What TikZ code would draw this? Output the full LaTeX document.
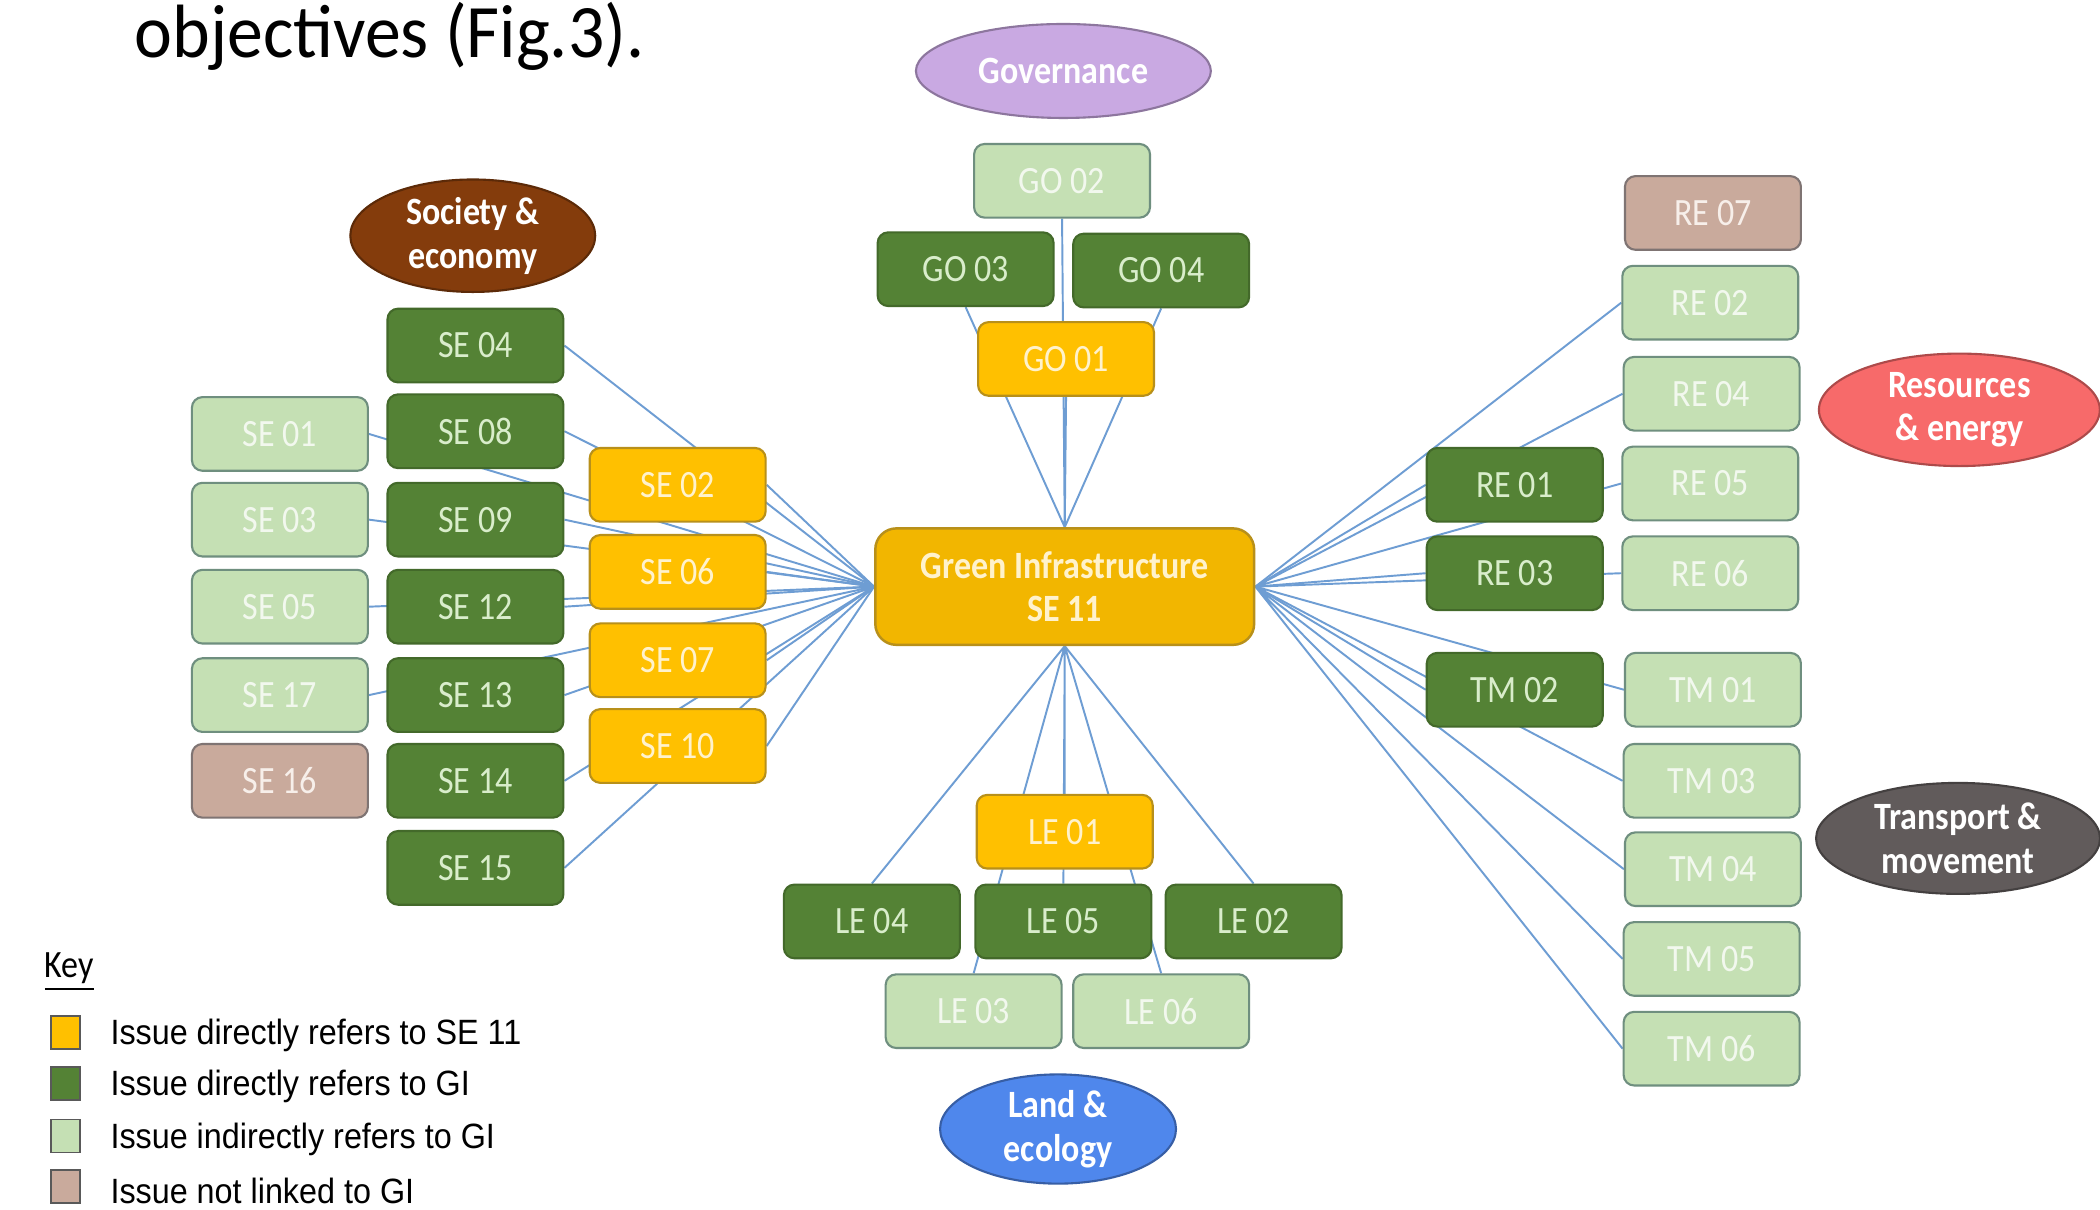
\documentclass[tikz,border=0pt]{standalone}
\usepackage{fontspec}
\setmainfont{Carlito}[FakeStretch=0.88]
\newfontfamily\titlefont{Carlito}[FakeStretch=0.95]
\newfontfamily\keyfont{Liberation Sans}[FakeStretch=0.92]
\usepackage{tikz}
\usetikzlibrary{shapes.geometric,backgrounds}
\definecolor{siGold}{HTML}{FFC000}
\definecolor{siGoldEdge}{HTML}{B8901A}
\definecolor{siGoldText}{HTML}{FFF2CC}
\definecolor{giGold}{HTML}{F2B600}
\definecolor{giGreen}{HTML}{548235}
\definecolor{giGreenEdge}{HTML}{43692A}
\definecolor{giGreenText}{HTML}{D9EDCB}
\definecolor{indGreen}{HTML}{C5E0B4}
\definecolor{indGreenEdge}{HTML}{6F8F7F}
\definecolor{indGreenText}{HTML}{F2F8EE}
\definecolor{nlTan}{HTML}{C9AA9C}
\definecolor{nlTanEdge}{HTML}{7F7473}
\definecolor{nlTanText}{HTML}{F7EFEA}
\definecolor{linkBlue}{HTML}{6E9DD3}
\definecolor{govLilac}{HTML}{C9A9E2}
\definecolor{socBrown}{HTML}{843C0C}
\definecolor{resRed}{HTML}{F76A6A}
\definecolor{traGrey}{HTML}{615B5B}
\definecolor{lanBlue}{HTML}{4F87EC}
\tikzset{issue/.style={draw,rounded corners=3pt,line width=0.6pt,minimum width=1.76cm,minimum height=0.737cm,inner sep=1pt,font=\fontsize{11}{12}\selectfont},
	refers si/.style={issue,fill=siGold,draw=siGoldEdge,text=siGoldText},
	refers gi/.style={issue,fill=giGreen,draw=giGreenEdge,text=giGreenText},
	indirect gi/.style={issue,fill=indGreen,draw=indGreenEdge,text=indGreenText},
	not linked/.style={issue,fill=nlTan,draw=nlTanEdge,text=nlTanText},
	theme/.style={ellipse,draw,line width=0.6pt,inner sep=0pt,align=center,text=white,font=\bfseries\fontsize{11}{12.4}\selectfont},
	link/.style={draw=linkBlue,line width=0.55pt},
	key box/.style={draw=gray!70!black,line width=0.4pt,minimum width=0.29cm,minimum height=0.33cm,inner sep=0pt},
	key label/.style={anchor=west,inner sep=0pt,font=\keyfont\fontsize{10}{12}\selectfont}}

\begin{document}
\begin{tikzpicture}[x=0.0133929cm,y=-0.0133929cm]
	\useasboundingbox (0,0) rectangle (1568,903);
	\clip (0,0) rectangle (1568,903);
	\node[anchor=base west,inner sep=0pt,font=\titlefont\fontsize{21.5}{24}\selectfont] (title) at (100,43) {objectives (Fig.3).};
	\node[draw=siGoldEdge,fill=giGold,rounded corners=6pt,line width=0.7pt,minimum width=3.79cm,minimum height=1.165cm,align=center,text=siGoldText,font=\bfseries\fontsize{11}{12.4}\selectfont] (GI) at (795,438) {Green Infrastructure\\SE 11};
	\node[theme,fill=govLilac,draw=govLilac!70!black,minimum width=2.95cm,minimum height=0.94cm] (gov) at (794,53) {Governance};
	\node[theme,fill=socBrown,draw=socBrown!70!black,minimum width=2.45cm,minimum height=1.125cm] (soc) at (353,176) {Society \&\\economy};
	\node[theme,fill=resRed,draw=resRed!70!black,minimum width=2.81cm,minimum height=1.125cm] (res) at (1463,306) {Resources\\\& energy};
	\node[theme,fill=traGrey,draw=traGrey!70!black,minimum width=2.84cm,minimum height=1.11cm] (tra) at (1462,626) {Transport \&\\movement};
	\node[theme,fill=lanBlue,draw=lanBlue!70!black,minimum width=2.36cm,minimum height=1.07cm] (lan) at (790,843) {Land \&\\ecology};
	\node[indirect gi] (GO02) at (793,135) {GO 02};
	\node[refers gi] (GO03) at (721,201) {GO 03};
	\node[refers gi] (GO04) at (867,202) {GO 04};
	\node[refers si] (GO01) at (796,268) {GO 01};
	\node[indirect gi] (SE01) at (209,324) {SE 01};
	\node[indirect gi] (SE03) at (209,388) {SE 03};
	\node[indirect gi] (SE05) at (209,453) {SE 05};
	\node[indirect gi] (SE17) at (209,519) {SE 17};
	\node[not linked] (SE16) at (209,583) {SE 16};
	\node[refers gi] (SE04) at (355,258) {SE 04};
	\node[refers gi] (SE08) at (355,322) {SE 08};
	\node[refers gi] (SE09) at (355,388) {SE 09};
	\node[refers gi] (SE12) at (355,453) {SE 12};
	\node[refers gi] (SE13) at (355,519) {SE 13};
	\node[refers gi] (SE14) at (355,583) {SE 14};
	\node[refers gi] (SE15) at (355,648) {SE 15};
	\node[refers si] (SE02) at (506,362) {SE 02};
	\node[refers si] (SE06) at (506,427) {SE 06};
	\node[refers si] (SE07) at (506,493) {SE 07};
	\node[refers si] (SE10) at (506,557) {SE 10};
	\node[refers gi] (RE01) at (1131,362) {RE 01};
	\node[refers gi] (RE03) at (1131,428) {RE 03};
	\node[refers gi] (TM02) at (1131,515) {TM 02};
	\node[not linked] (RE07) at (1279,159) {RE 07};
	\node[indirect gi] (RE02) at (1277,226) {RE 02};
	\node[indirect gi] (RE04) at (1278,294) {RE 04};
	\node[indirect gi] (RE05) at (1277,361) {RE 05};
	\node[indirect gi] (RE06) at (1277,428) {RE 06};
	\node[indirect gi] (TM01) at (1279,515) {TM 01};
	\node[indirect gi] (TM03) at (1278,583) {TM 03};
	\node[indirect gi] (TM04) at (1279,649) {TM 04};
	\node[indirect gi] (TM05) at (1278,716) {TM 05};
	\node[indirect gi] (TM06) at (1278,783) {TM 06};
	\node[refers si] (LE01) at (795,621) {LE 01};
	\node[refers gi] (LE04) at (651,688) {LE 04};
	\node[refers gi] (LE05) at (794,688) {LE 05};
	\node[refers gi] (LE02) at (936,688) {LE 02};
	\node[indirect gi] (LE03) at (727,755) {LE 03};
	\node[indirect gi] (LE06) at (867,755) {LE 06};
	\begin{scope}[on background layer]
		\fill[white] (0,0) rectangle (1568,903);
		\draw[link] (GI.north) -- (GO01.south) (GI.north) -- (GO02.south) (GI.north) -- (GO03.south) (GI.north) -- (GO04.south);
		\draw[link] (GI.west) -- (SE02.east) (GI.west) -- (SE06.east) (GI.west) -- (SE07.east) (GI.west) -- (SE10.east);
		\draw[link] (GI.west) -- (SE04.east) (GI.west) -- (SE08.east) (GI.west) -- (SE09.east) (GI.west) -- (SE12.east) (GI.west) -- (SE13.east) (GI.west) -- (SE14.east) (GI.west) -- (SE15.east);
		\draw[link] (GI.west) -- (SE01.east) (GI.west) -- (SE03.east) (GI.west) -- (SE05.east) (GI.west) -- (SE17.east);
		\draw[link] (GI.east) -- (RE01.west) (GI.east) -- (RE03.west) (GI.east) -- (TM02.west);
		\draw[link] (GI.east) -- (RE02.west) (GI.east) -- (RE04.west) (GI.east) -- (RE05.west) (GI.east) -- (RE06.west);
		\draw[link] (GI.east) -- (TM01.west) (GI.east) -- (TM03.west) (GI.east) -- (TM04.west) (GI.east) -- (TM05.west) (GI.east) -- (TM06.west);
		\draw[link] (GI.south) -- (LE01.north) (GI.south) -- (LE04.north) (GI.south) -- (LE05.north) (GI.south) -- (LE02.north) (GI.south) -- (LE03.north) (GI.south) -- (LE06.north);
	\end{scope}
	\node[anchor=base west,inner sep=0pt,font=\fontsize{11}{12}\selectfont] (key) at (33,730) {\underline{Key}};
	\node[key box,fill=siGold] (k1) at (49,771) {};
	\node[key box,fill=giGreen] (k2) at (49,809) {};
	\node[key box,fill=indGreen] (k3) at (49,848) {};
	\node[key box,fill=nlTan] (k4) at (49,886) {};
	\node[key label] (t1) at (82,773) {Issue directly refers to SE 11};
	\node[key label] (t2) at (82,811) {Issue directly refers to GI};
	\node[key label] (t3) at (82,851) {Issue indirectly refers to GI};
	\node[key label] (t4) at (82,889) {Issue not linked to GI};
\end{tikzpicture}
\end{document}
